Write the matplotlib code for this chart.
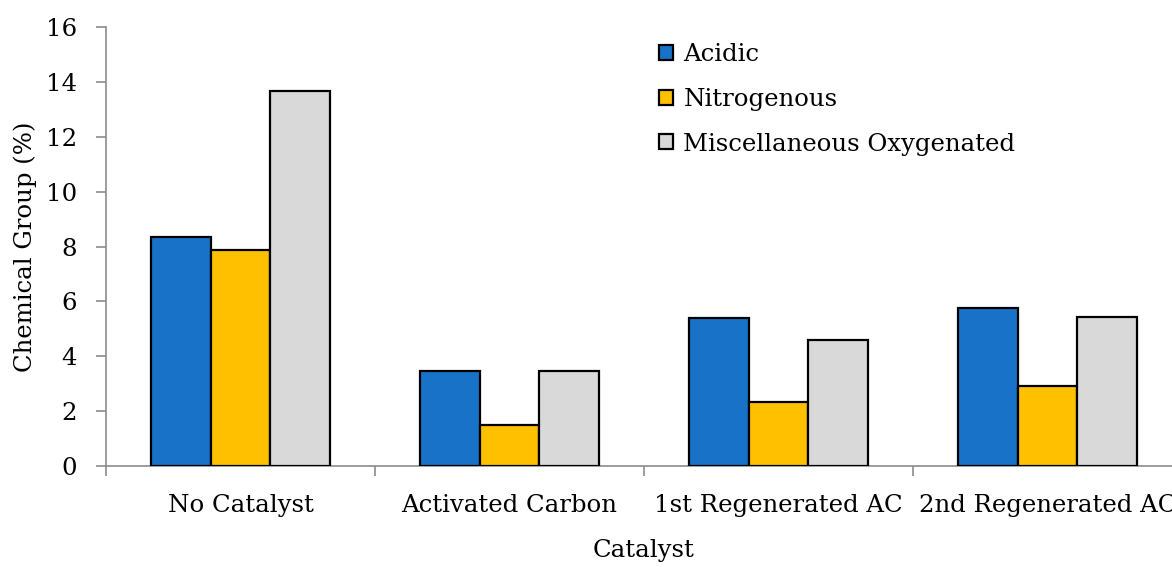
import matplotlib
matplotlib.use("Agg")
import matplotlib.pyplot as plt
import numpy as np

categories = ["No Catalyst", "Activated Carbon", "1st Regenerated AC", "2nd Regenerated AC"]
series_names = ["Acidic", "Nitrogenous", "Miscellaneous Oxygenated"]
acidic = [8.35, 3.47, 5.40, 5.76]
nitrogenous = [7.87, 1.50, 2.34, 2.90]
misc_oxygenated = [13.67, 3.47, 4.60, 5.42]
colors = ["#1872C8", "#FFC000", "#D9D9D9"]
y_ticks = [0, 2, 4, 6, 8, 10, 12, 14, 16]

plt.rcParams['font.family'] = ['DejaVu Serif']
FS = 17.6

W, H = 1172, 567
fig = plt.figure(figsize=(W / 100, H / 100), dpi=100)
ax = fig.add_axes([106 / W, 1 - 466 / H, 1076 / W, 439 / H])

x = np.arange(len(categories))
bw = 0.223
data = [acidic, nitrogenous, misc_oxygenated]
for i, (vals, name, c) in enumerate(zip(data, series_names, colors)):
    ax.bar(x + (i - 1) * bw, vals, width=bw, color=c, edgecolor="black",
           linewidth=1.6, label=name, zorder=3)

ax.set_xlim(-0.5, len(categories) - 0.5)
ax.set_ylim(0, 16)
ax.set_yticks(y_ticks)
ax.set_yticklabels([str(t) for t in y_ticks], fontsize=FS)

ax.set_xticks(x)
ax.set_xticklabels(categories, fontsize=FS)
ax.set_xticks(np.arange(-0.5, len(categories) + 0.5, 1), minor=True)
ax.tick_params(axis="x", which="major", length=0, pad=20)
ax.tick_params(axis="x", which="minor", length=7, color="#8C8C8C", width=1.2, direction="out")
ax.tick_params(axis="y", which="major", length=7, color="#8C8C8C", width=1.2, pad=14)

for s in ["top", "right"]:
    ax.spines[s].set_visible(False)
for s in ["left", "bottom"]:
    ax.spines[s].set_color("#8C8C8C")
    ax.spines[s].set_linewidth(1.2)

fig.text(25 / W, 1 - 247 / H, "Chemical Group (%)", rotation=90, ha="center", va="center", fontsize=FS)
fig.text(644 / W, 1 - 551 / H, "Catalyst", ha="center", va="center", fontsize=FS)

leg = ax.legend(loc="upper left", bbox_to_anchor=(659 / W, 1 - 43 / H),
                bbox_transform=fig.transFigure, frameon=False, fontsize=FS,
                handlelength=0.58, handleheight=0.58, handletextpad=0.42,
                labelspacing=0.89, borderpad=0, borderaxespad=0)

fig.savefig("out.png", dpi=100)
